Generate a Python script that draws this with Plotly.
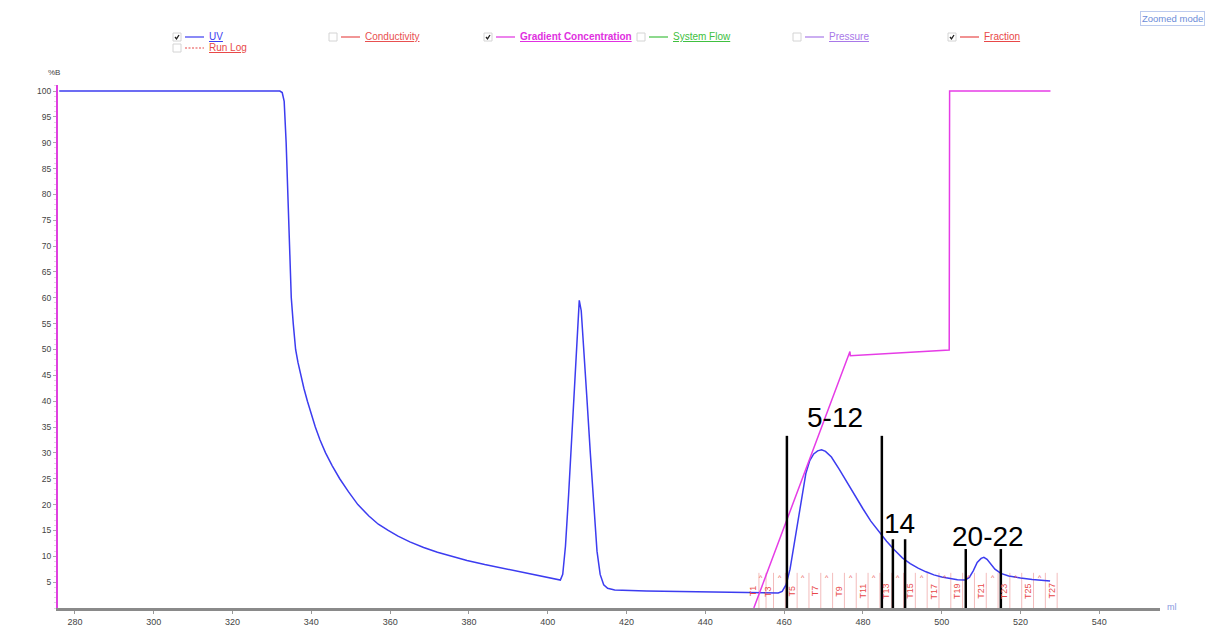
import plotly.graph_objects as go

# ---- data -------------------------------------------------------------
uv_ml = [276, 332.0, 332.6, 333.1, 333.6, 334.0, 334.4, 334.9, 335.4, 336.0,
         336.6, 337.3, 338.1, 339.0, 340.0, 341.0, 342.2, 343.6, 345.3, 347.2,
         349.4, 351.8, 354.6, 357.0, 359.5, 362.0, 365.0, 368.5, 372.0, 375.5,
         379.5, 384.0, 388.5, 393.0, 397.0, 400.5, 403.2,
         403.8, 404.5, 405.3, 406.1, 406.9, 407.5, 408.0, 408.5, 409.1, 409.9,
         410.8, 411.7, 412.5, 413.3, 414.2, 415.2, 417, 425, 435, 445,
         455, 458.5, 459.5, 460.5, 461.5, 462.5, 463.5, 464.5, 465.5, 466.5,
         467.5, 468.5, 469.5, 470.5, 472, 474, 476, 478, 480, 482,
         484, 486, 488, 490, 492, 494, 496, 498, 500, 502,
         504, 506, 507, 508, 509, 510, 510.7, 511.5, 512.5, 513.5,
         515, 517, 520, 523, 527.5]
uv_val = [100, 100, 99.7, 98, 90, 80, 70, 60, 55, 50,
          47.5, 45, 42.5, 40, 37.5, 35, 32.5, 30, 27.5, 25,
          22.5, 20, 17.8, 16.2, 15.0, 13.9, 12.8, 11.7, 10.8, 10.0,
          9.2, 8.4, 7.7, 7.0, 6.4, 5.9, 5.4,
          6.5, 12, 22, 33, 45, 54, 59.5, 57.5, 51, 41,
          30, 19, 11, 6.5, 4.5, 3.8, 3.5, 3.3, 3.15, 3.0,
          2.9, 2.9, 3.2, 4.5, 7.5, 12, 17, 21.5, 26, 28.5,
          29.8, 30.4, 30.6, 30.3, 29.2, 26.8, 24.2, 21.6, 19.2, 16.8,
          14.8, 12.9, 11.2, 9.7, 8.6, 7.7, 7.0, 6.4, 6.0, 5.7,
          5.45, 5.4, 5.9, 7.2, 8.8, 9.6, 9.8, 9.4, 8.4, 7.5,
          6.7, 6.2, 5.8, 5.5, 5.2]

grad_ml = [452.3, 476.7, 476.8, 501.9, 502.0, 527.6]
grad_val = [0, 49.6, 48.8, 49.9, 100, 100]

frac_labels = ["T1", "T2", "T3", "T4", "T5", "T6", "T7", "T8", "T9", "T10",
               "T11", "T12", "T13", "T14", "T15", "T16", "T17", "T18", "T19",
               "T20", "T21", "T22", "T23", "T24", "T25", "T26", "T27"]
frac_ml = [452.2, 454.0, 455.9, 458.9, 461.9, 464.9, 467.9, 470.9, 473.9,
           476.9, 479.9, 482.9, 485.9, 488.9, 491.9, 494.9, 497.9, 500.9,
           503.9, 506.9, 509.9, 512.9, 515.9, 518.9, 521.9, 524.9, 527.9]

x_ticks = [280, 300, 320, 340, 360, 380, 400, 420, 440, 460, 480, 500, 520, 540]
y_ticks = [5, 10, 15, 20, 25, 30, 35, 40, 45, 50, 55, 60, 65, 70, 75, 80, 85,
           90, 95, 100]

# pooled fraction groups: divider positions and captions
cut_ml = [460.7, 484.8, 487.6, 490.7, 506.1, 515.0]
cut_top = [33.3, 33.3, 13.3, 13.3, 11.4, 11.4]
pool_text = ["5-12", "14", "20-22"]
pool_ml = [472.9, 489.4, 511.7]
pool_val = [36.8, 16.3, 13.8]

legend_items = [
    # (checkbox left px, checked, colour, dash, label, row y px, bold)
    (173, True, "#3c3cf0", "solid", "UV", 37, False),
    (329, False, "#e85050", "solid", "Conductivity", 37, False),
    (484, True, "#e030e0", "solid", "Gradient Concentration", 37, True),
    (637, False, "#40c040", "solid", "System Flow", 37, False),
    (793, False, "#a878e8", "solid", "Pressure", 37, False),
    (948, True, "#e84848", "solid", "Fraction", 37, False),
    (173, False, "#e84848", "2px,1.5px", "Run Log", 48, False),
]

# ---- geometry ---------------------------------------------------------
W, H = 1206, 626
ML, MR, MT, MB = 58, 46, 85, 18
PW = W - ML - MR
PH = H - MT - MB


def px(x):
    return (x - ML) / PW


def py(y):
    return (H - MB - y) / PH


FONT = "Liberation Sans, Arial"

fig = go.Figure()

fig.add_trace(go.Scatter(x=uv_ml, y=uv_val, mode="lines",
                         line=dict(color="#3c3cf0", width=1.5),
                         showlegend=False, hoverinfo="skip"))
fig.add_trace(go.Scatter(x=grad_ml, y=grad_val, mode="lines",
                         line=dict(color="#e63ce6", width=1.5),
                         showlegend=False, hoverinfo="skip"))

shapes = []
annotations = []

# fraction boxes, carets and labels
for i, (lab, m) in enumerate(zip(frac_labels, frac_ml)):
    shapes.append(dict(type="line", xref="x", yref="y", x0=m + 1.4, x1=m + 1.4,
                       y0=0, y1=6.8, line=dict(color="#f3bcbc", width=1),
                       layer="below"))
    if i % 2 == 0:
        annotations.append(dict(x=m, y=3.3, xref="x", yref="y", text=lab,
                                textangle=-90, showarrow=False,
                                font=dict(size=9, color="#e84848",
                                          family=FONT)))
    else:
        annotations.append(dict(x=m, y=5.9, xref="x", yref="y", text="^",
                                showarrow=False,
                                font=dict(size=7, color="#e84848",
                                          family=FONT)))

# pooled-fraction dividers
for m, top in zip(cut_ml, cut_top):
    shapes.append(dict(type="line", xref="x", yref="y", x0=m, x1=m, y0=0,
                       y1=top, line=dict(color="black", width=2.5)))
for t, m, v in zip(pool_text, pool_ml, pool_val):
    annotations.append(dict(x=m, y=v, xref="x", yref="y", text=t,
                            showarrow=False,
                            font=dict(size=28, color="black", family=FONT)))

# legend row with check boxes
for cx, checked, col, dash, lab, ry, bold in legend_items:
    shapes.append(dict(type="rect", xref="paper", yref="paper",
                       x0=px(cx), x1=px(cx + 8), y0=py(ry + 4), y1=py(ry - 4),
                       line=dict(color="#d4d4d4", width=1),
                       fillcolor="white"))
    if checked:
        shapes.append(dict(type="path", xref="paper", yref="paper",
                           path=(f"M {px(cx + 2)} {py(ry)} "
                                 f"L {px(cx + 3.5)} {py(ry + 1.8)} "
                                 f"L {px(cx + 6)} {py(ry - 2)}"),
                           line=dict(color="#222", width=1.3)))
    shapes.append(dict(type="line", xref="paper", yref="paper",
                       x0=px(cx + 12), x1=px(cx + 31), y0=py(ry), y1=py(ry),
                       line=dict(color=col, width=1.2, dash=dash)))
    txt = f"<u>{lab}</u>"
    if bold:
        txt = f"<b>{txt}</b>"
    annotations.append(dict(x=px(cx + 34), y=py(ry), xref="paper",
                            yref="paper", text=txt, showarrow=False,
                            xanchor="left", yanchor="middle",
                            font=dict(size=10, color=col, family=FONT)))

annotations.append(dict(x=px(54), y=py(72), xref="paper", yref="paper",
                        text="%B", showarrow=False,
                        xanchor="center", yanchor="middle",
                        font=dict(size=8, color="#444", family=FONT)))
annotations.append(dict(x=px(1165), y=py(607), xref="paper", yref="paper",
                        text="ml", showarrow=False,
                        xanchor="left", yanchor="middle",
                        font=dict(size=9, color="#8898e0", family=FONT)))
annotations.append(dict(x=px(1205), y=py(18), xref="paper", yref="paper",
                        text="Zoomed mode", showarrow=False,
                        xanchor="right", yanchor="middle",
                        bordercolor="#bccbee", borderwidth=1, borderpad=1,
                        bgcolor="white",
                        font=dict(size=9.5, color="#6c8cd8", family=FONT)))

fig.update_layout(
    width=W, height=H,
    margin=dict(l=ML, r=MR, t=MT, b=MB, pad=0, autoexpand=False),
    paper_bgcolor="white", plot_bgcolor="white",
    shapes=shapes, annotations=annotations,
    xaxis=dict(range=[275.69, 555.4], tickvals=x_ticks, showgrid=False,
               zeroline=False, showline=True, linecolor="#8a8a8a",
               linewidth=3, ticks="outside", ticklen=3, tickcolor="#999",
               automargin=False,
               tickfont=dict(size=9, color="#444", family=FONT)),
    yaxis=dict(range=[0, 101.16], tickvals=y_ticks, showgrid=False,
               zeroline=False, showline=True, linecolor="#e040e0",
               linewidth=2, ticks="outside", ticklen=3, tickcolor="#aaa",
               automargin=False,
               tickfont=dict(size=8.5, color="#444", family=FONT),
               minor=dict(ticks="outside", ticklen=2, dtick=1,
                          tickcolor="#ddd")),
)

fig.write_html("out.html")
